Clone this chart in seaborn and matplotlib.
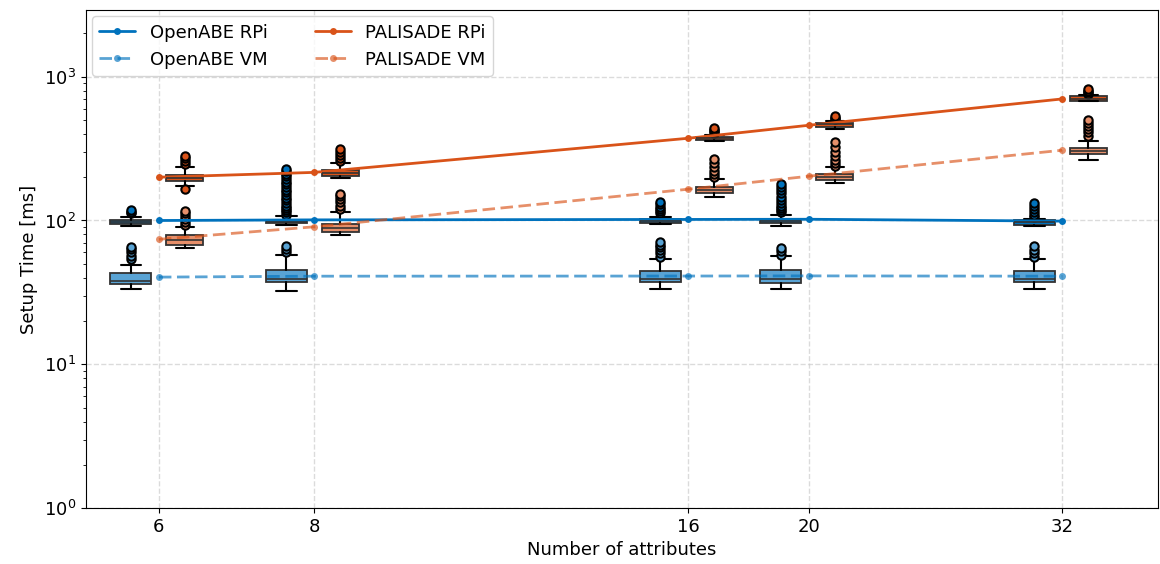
import numpy as np
import pandas as pd
import seaborn as sns
import matplotlib.pyplot as plt
from matplotlib.ticker import NullLocator, FixedLocator, FixedFormatter

attrs = [6, 8, 16, 20, 32]

# line values (ms)
openabe_rpi = [100, 101, 101.7, 102, 99]
openabe_vm = [40.4, 41, 41.1, 41.2, 41]
palisade_rpi = [200, 216, 373, 459, 700]
palisade_vm = [74, 90.4, 165, 203, 308]

# box stats per attribute count: [whislo, q1, med, q3, whishi]
openabe_rpi_box = [[91.9, 95.3, 98, 100.5, 106], [93, 96, 98, 100, 108], [94, 96.5, 99, 102, 106],
                   [92, 96.5, 99, 102, 110], [91, 93.5, 97, 101, 103]]
openabe_rpi_fliers = [[112, 115, 119],
                      [110, 114, 118, 122, 127, 132, 138, 144, 150, 157, 163, 170, 178, 186, 195, 203, 212, 220, 228],
                      [112, 116, 120, 125, 130, 134],
                      [114, 118, 122, 127, 132, 138, 146, 155, 163, 172, 180],
                      [106, 110, 115, 120, 126, 132]]
openabe_vm_box = [[33.3, 36.3, 38.1, 43.1, 49.2], [32.6, 37.4, 39.4, 45, 57.8], [33.3, 37.3, 39, 44.3, 54.2],
                  [33.3, 37, 38.9, 45, 56.5], [33.2, 37.3, 38.9, 44.3, 53.6]]
openabe_vm_fliers = [[54, 57, 60, 63, 65], [60, 63, 66], [56, 59, 62, 65, 68, 71], [58, 61, 64.6], [56, 59, 62, 66]]
palisade_rpi_box = [[173, 189, 198, 208, 237], [198, 203, 213, 225, 252], [355, 363, 373, 383, 396],
                    [435, 450, 465, 480, 495], [674, 680, 700, 735, 745]]
palisade_rpi_fliers = [[165, 248, 258, 270, 283], [261, 272, 285, 300, 315], [404, 416, 428, 440],
                       [505, 520, 536], [758, 780, 800, 821]]
palisade_vm_box = [[64.2, 68, 72.6, 78.7, 89.8], [78.7, 83, 89, 94.9, 114], [145, 156, 164, 172, 195],
                   [182, 190, 200, 211, 235], [265, 290, 305, 320, 359]]
palisade_vm_fliers = [[93.3, 98, 103, 108, 113, 117], [121, 127, 134, 141, 147, 153],
                      [200, 210, 222, 235, 250, 268], [238, 250, 265, 282, 300, 325, 350],
                      [389, 410, 432, 455, 478, 501]]

blue = "#0072BD"
orange = "#D95319"
vm_alpha = 0.65

sns.set_style("ticks")
plt.rcParams["font.family"] = ["DejaVu Sans"]
plt.rcParams["font.size"] = 13
plt.rcParams["text.color"] = "black"
plt.rcParams["axes.labelcolor"] = "black"
plt.rcParams["xtick.color"] = "black"
plt.rcParams["ytick.color"] = "black"
plt.rcParams["axes.edgecolor"] = "black"

fig, ax = plt.subplots(figsize=(11.6, 5.64), dpi=100)
fig.subplots_adjust(left=0.074, right=0.998, top=0.982, bottom=0.099)

ax.set_xscale("log")
ax.set_yscale("log")


def blend(c, a):
    rgb = np.array(plt.matplotlib.colors.to_rgb(c))
    return tuple(a * rgb + (1 - a))


def add_boxes(boxes, fliers, shift, color):
    stats = []
    for b, f in zip(boxes, fliers):
        stats.append(dict(whislo=b[0], q1=b[1], med=b[2], q3=b[3], whishi=b[4], fliers=f))
    pos = [x * shift for x in attrs]
    wid = [x * 0.072 for x in attrs]
    ax.bxp(stats, positions=pos, widths=wid, patch_artist=True, manage_ticks=False,
           boxprops=dict(facecolor=color, edgecolor="#333333", linewidth=1.3),
           medianprops=dict(color="#333333", linewidth=1.2),
           whiskerprops=dict(color="black", linewidth=1.5),
           capprops=dict(color="black", linewidth=1.5),
           flierprops=dict(marker="o", markerfacecolor=color, markeredgecolor="black",
                           markersize=6, markeredgewidth=1.5))


add_boxes(openabe_rpi_box, openabe_rpi_fliers, 0.95, blue)
add_boxes(openabe_vm_box, openabe_vm_fliers, 0.95, blend(blue, vm_alpha))
add_boxes(palisade_rpi_box, palisade_rpi_fliers, 1.05, orange)
add_boxes(palisade_vm_box, palisade_vm_fliers, 1.05, blend(orange, vm_alpha))

series = [
    ("OpenABE RPi", openabe_rpi, blue, "-", 1),
    ("OpenABE VM", openabe_vm, blue, "--", vm_alpha),
    ("PALISADE RPi", palisade_rpi, orange, "-", 1),
    ("PALISADE VM", palisade_vm, orange, "--", vm_alpha),
]
for name, vals, col, ls, a in series:
    df = pd.DataFrame({"attrs": attrs, "time": vals})
    sns.lineplot(data=df, x="attrs", y="time", ax=ax, color=col, alpha=a,
                 marker="o", markersize=5, markeredgewidth=0, linewidth=2, label=name)
    if ls == "--":
        ax.lines[-1].set_dashes((4.5, 2))

ax.set_xlim(5.24, 38.2)
ax.set_ylim(1, 2900)
ax.xaxis.set_major_locator(FixedLocator(attrs))
ax.xaxis.set_major_formatter(FixedFormatter([str(a) for a in attrs]))
ax.xaxis.set_minor_locator(NullLocator())
ax.grid(True, which="major", linestyle="--", color="#cccccc", alpha=0.7, linewidth=1)
ax.set_xlabel("Number of attributes", fontsize=13)
ax.set_ylabel("Setup Time [ms]", fontsize=13)
ax.tick_params(labelsize=13)
leg = ax.legend(loc="upper left", ncol=2, fontsize=13, frameon=True, borderaxespad=0.35,
                columnspacing=2.6)
for h in leg.legend_handles:
    if h.get_alpha() is not None and h.get_alpha() < 1:
        h.set_dashes((4.5, 2))

fig.savefig("out.png", dpi=100)
